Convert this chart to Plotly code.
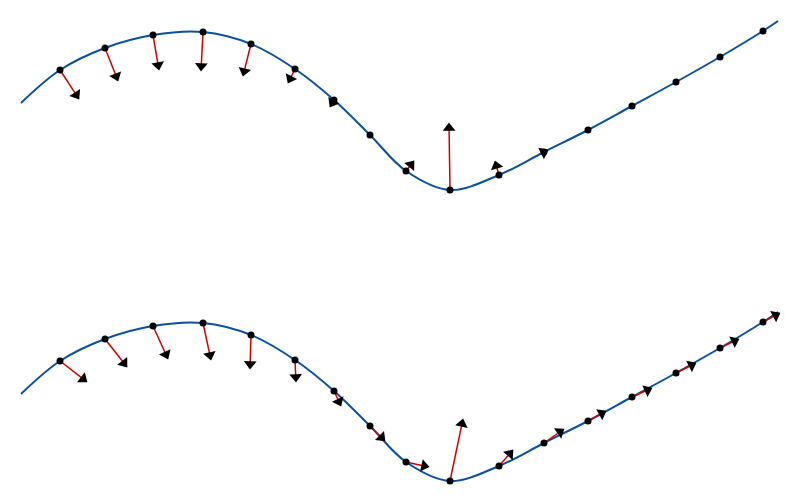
import math
import plotly.graph_objects as go

curve_x = [20, 59, 104, 152, 202, 250, 294, 333, 369, 405, 449, 498, 543, 587, 631, 675, 719, 762, 777]
curve_y = [102, 69, 47, 34, 31, 43, 68, 99, 134, 170, 189, 174, 151, 129, 105, 81, 56, 30, 20]
pt_x = curve_x[1:-1]
pt_y = curve_y[1:-1]
top_dx = [19, 13, 6, -2, -8, -7, -4, 0, 8, -1, -4, 4, 0, 0, 0, 0, 0]
top_dy = [29, 33, 35, 39, 32, 14, 7, 0, -10, -67, -14, -2, 0, 0, 0, 0, 0]
bot_dx = [27, 22, 15, 8, -1, 1, 7, 15, 23, 13, 14, 20, 18, 20, 20, 19, 17]
bot_dy = [21, 28, 33, 37, 34, 22, 15, 15, 5, -62, -16, -14, -10, -9, -10, -9, -9]

fig = go.Figure()
panels = [("x", "y", top_dx, top_dy), ("x2", "y2", bot_dx, bot_dy)]
for xa, ya, dxs, dys in panels:
    fig.add_trace(go.Scatter(x=curve_x, y=curve_y, mode="lines", line=dict(color="#0a50a0", width=2, shape="spline", smoothing=1.0), xaxis=xa, yaxis=ya, hoverinfo="skip"))
    sx, sy, hx, hy, ang = [], [], [], [], []
    for x0, y0, dx, dy in zip(pt_x, pt_y, dxs, dys):
        L = math.hypot(dx, dy)
        if L < 1:
            continue
        ux, uy = dx / L, dy / L
        sx += [x0, x0 + dx - ux * 5, None]
        sy += [y0, y0 + dy - uy * 5, None]
        hx.append(x0 + dx - ux * 5)
        hy.append(y0 + dy - uy * 5)
        ang.append(math.degrees(math.atan2(dx, -dy)))
    fig.add_trace(go.Scatter(x=sx, y=sy, mode="lines", line=dict(color="#d00000", width=1.5), xaxis=xa, yaxis=ya, hoverinfo="skip"))
    fig.add_trace(go.Scatter(x=hx, y=hy, mode="markers", marker=dict(symbol="triangle-up", size=11, color="black", angle=ang, line=dict(width=0)), xaxis=xa, yaxis=ya, hoverinfo="skip"))
    fig.add_trace(go.Scatter(x=pt_x, y=pt_y, mode="markers", marker=dict(color="black", size=7), xaxis=xa, yaxis=ya, hoverinfo="skip"))

ax = dict(visible=False, range=[7, 807], fixedrange=True)
fig.update_layout(
    width=800, height=504, margin=dict(l=0, r=0, t=0, b=0),
    plot_bgcolor="white", paper_bgcolor="white", showlegend=False,
    xaxis=dict(ax, domain=[0, 1]),
    yaxis=dict(visible=False, range=[259, 7], domain=[0.5, 1]),
    xaxis2=dict(ax, domain=[0, 1], anchor="y2"),
    yaxis2=dict(visible=False, range=[220, -32], domain=[0, 0.5], anchor="x2"),
)
fig.write_html("out.html")
